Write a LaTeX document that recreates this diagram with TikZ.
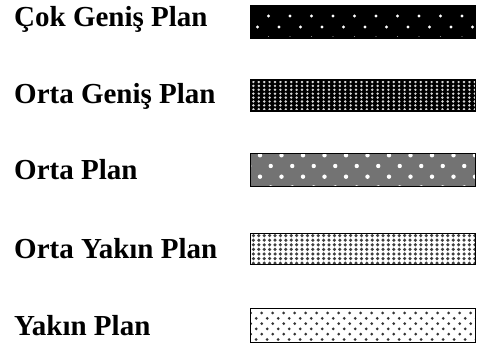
\documentclass[tikz,border=0pt]{standalone}
\usepackage{fontspec}
\setmainfont{Liberation Serif}
\usepackage{tikz}

% fills a swatch node with a dot raster
% #1 node, #2 ground, #3 dot colour, #4 radius, #5 dx, #6 dy, #7 x0, #8 y0, #9 row offset
\newcommand{\swatchdots}[9]{%
	\fill[#2] (#1.south west) rectangle (#1.north east);
	\begin{scope}
		\clip (#1.south west) rectangle (#1.north east);
		\pgfmathtruncatemacro{\ncols}{230/#5+1}
		\pgfmathtruncatemacro{\nrows}{36/#6+1}
		\foreach \r in {0,...,\nrows}
		\foreach \c in {-1,...,\ncols}
		\fill[#3, shift={(#1.north west)}] ({#7+\c*#5+mod(\r,2)*#9}, {#8+\r*#6}) circle (#4);
	\end{scope}
	\draw[frame] (#1.south west) rectangle (#1.north east);
}

\begin{document}
\begin{tikzpicture}[
		x=1pt, y=-1pt,
		lbl/.style={anchor=base west, inner sep=0pt, font=\fontsize{29}{34}\selectfont\bfseries},
		swatch/.style={minimum width=224.8pt, minimum height=#1, inner sep=0pt, outer sep=0pt},
		frame/.style={draw=black, line width=1.5pt}
		]
		\useasboundingbox (0,0) rectangle (479,352);
		
		\node[lbl] (cok)       at (14,27)    {Çok Geniş Plan};
		\node[lbl] (ortagenis) at (14,104)   {Orta Geniş Plan};
		\node[lbl] (orta)      at (14,180)   {Orta Plan};
		\node[lbl] (ortayakin) at (14,259)   {Orta Yakın Plan};
		\node[lbl] (yakin)     at (14,335.5) {Yakın Plan};
		
		\node[swatch=32pt]   (cokbox)       at (363.1,22)    {};
		\node[swatch=31pt]   (ortagenisbox) at (363.1,95.5)  {};
		\node[swatch=33.4pt] (ortabox)      at (363.1,170)   {};
		\node[swatch=31pt]   (ortayakinbox) at (363.1,248.8) {};
		\node[swatch=34.4pt] (yakinbox)     at (363.1,325.5) {};
		
		\swatchdots{cokbox}{black}{white}{1.6}{21.5}{11}{6.8}{-1}{11}
		\swatchdots{ortagenisbox}{black}{white!85!black}{1.35}{5.4}{3.9}{2.7}{2}{0}
		\swatchdots{ortabox}{black!55}{white}{2.2}{21.5}{10.7}{9.3}{2}{10.75}
		\swatchdots{ortayakinbox}{white}{black!75}{1.75}{5.4}{4.6}{2.7}{2.3}{0}
		\swatchdots{yakinbox}{white}{black!80}{1.5}{11}{5.3}{11}{4.7}{5.5}
	\end{tikzpicture}
\end{document}
